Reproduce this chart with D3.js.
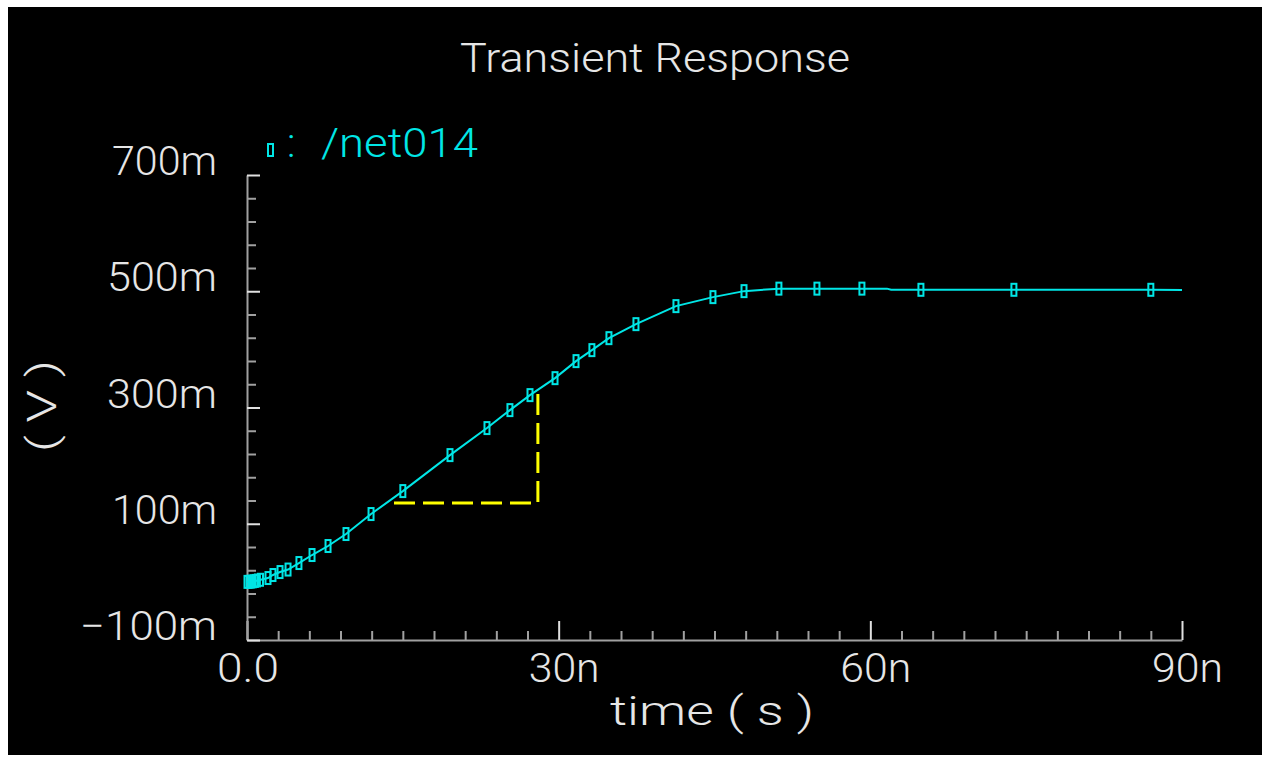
<!DOCTYPE html>
<html><head><meta charset="utf-8">
<script src="https://cdn.jsdelivr.net/npm/d3@7"></script>
<style>html,body{margin:0;padding:0;background:#fff;overflow:hidden}</style>
</head><body><svg id="c" width="1270" height="763"></svg>
<script>
// ---- data (time in ns, voltage in mV) ----
const timeNs = [0, 0.2, 0.4, 0.6, 0.8, 1.0, 1.3, 2.02, 2.5, 3.18, 3.95, 5.0, 6.26, 7.8, 9.53, 11.94, 15.0, 19.54, 23.1, 25.31, 27.24, 29.65, 31.67, 33.2, 34.84, 37.44, 41.29, 44.85, 47.84, 51.2, 54.86, 59.19, 61.6, 62.0, 64.87, 73.82, 87.0, 90.0];
const voltMv = [0, 0.1, 0.4, 0.9, 1.6, 2.4, 3.6, 6.6, 11.8, 16.9, 21.2, 32.4, 46.2, 61.7, 82.3, 116.7, 156.2, 218.1, 264.6, 295.5, 321.3, 350.5, 379.8, 398.7, 419.3, 443.4, 474.4, 489.9, 500.2, 504.5, 504.5, 504.5, 504.5, 502.5, 502.5, 502.5, 502.5, 502.2];
const hasMarker = [1,1,1,1,1,1,1,1,1,1,1,1,1,1,1,1,1,1,1,1,1,1,1,1,1,1,1,1,1,1,1,1,0,0,1,1,1,0];
const xMajorTicks = [0, 30, 60, 90];
const xTickLabels = ["0.0", "30n", "60n", "90n"];
const yMajorTicks = [-100, 100, 300, 500, 700];
const yTickLabels = ["\u2212100m", "100m", "300m", "500m", "700m"];
const slopeTime = [14.15, 28.0, 28.0];
const slopeVolt = [135.6, 135.6, 326.5];
const chartTitle = "Transient Response";
const legendParts = [": ", "/net014"];
const xTitle = "time ( s )";
const yTitle = "( V )";

// ---- layout ----
const W = 1270, H = 763;
const FONT = "Roboto, 'DejaVu Sans', sans-serif";
const textColor = "#e6e6e6";
const cyan = "#00e6e6";
const axisColor = "#a0a0a0";

const svg = d3.select("#c");
svg.append("rect").attr("x", 0).attr("y", 0).attr("width", W).attr("height", H).attr("fill", "#fff");
svg.append("rect").attr("x", 8).attr("y", 7).attr("width", 1254).attr("height", 748).attr("fill", "#000");

const x = d3.scaleLinear().domain([0, 90]).range([247, 1182]);
const y = d3.scaleLinear().domain([-100, 700]).range([640, 175]);

// x axis (ticks pointing up)
const xTicks = d3.range(0, 90.001, 3);
const gx = svg.append("g").attr("transform", `translate(0,${y(-100)})`)
  .call(d3.axisTop(x).tickValues(xTicks).tickSizeOuter(0).tickFormat(""));
gx.select(".domain").attr("stroke", axisColor).attr("stroke-width", 2);
gx.selectAll(".tick line")
  .attr("stroke-width", 2)
  .attr("y2", d => xMajorTicks.includes(Math.round(d)) ? -19 : -9)
  .attr("stroke", d => xMajorTicks.includes(Math.round(d)) ? "#e0e0e0" : axisColor);

// y axis (ticks pointing right)
const yTicks = d3.range(-100, 700.001, 40);
const gy = svg.append("g").attr("transform", `translate(${x(0)},0)`)
  .call(d3.axisRight(y).tickValues(yTicks).tickSizeOuter(0).tickFormat(""));
gy.select(".domain").attr("stroke", axisColor).attr("stroke-width", 2);
gy.selectAll(".tick line")
  .attr("stroke-width", 2)
  .attr("x2", d => yMajorTicks.includes(Math.round(d)) ? 13 : 9)
  .attr("stroke", d => yMajorTicks.includes(Math.round(d)) ? "#e0e0e0" : axisColor);

// tick labels
const txtStyle = sel => sel.attr("font-family", FONT).attr("font-weight", 300)
  .attr("font-size", 40).attr("fill", textColor).attr("lengthAdjust", "spacingAndGlyphs");

svg.append("g").selectAll("text").data(xMajorTicks).join("text")
  .call(txtStyle)
  .attr("x", d => x(d) - 30).attr("y", 682)
  .attr("textLength", (d, i) => i === 0 ? 62 : 71)
  .text((d, i) => xTickLabels[i]);

svg.append("g").selectAll("text").data(yMajorTicks).join("text")
  .call(txtStyle)
  .attr("text-anchor", "end")
  .attr("x", 217).attr("y", d => y(d))
  .attr("textLength", (d, i) => i === 0 ? 137 : (yTickLabels[i][0] === "1" || yTickLabels[i][0] === "7" ? 105 : 110))
  .text((d, i) => yTickLabels[i]);

// titles
svg.append("text").call(txtStyle).attr("text-anchor", "middle")
  .attr("x", 655).attr("y", 72).attr("textLength", 390).text(chartTitle);
svg.append("text").call(txtStyle).attr("text-anchor", "middle")
  .attr("x", 712).attr("y", 725).attr("textLength", 204).text(xTitle);
svg.append("text").call(txtStyle).attr("text-anchor", "middle")
  .attr("transform", "translate(56,406) rotate(-90)").attr("textLength", 92).text(yTitle);

// legend
svg.append("rect").attr("x", 268).attr("y", 144).attr("width", 5).attr("height", 12)
  .attr("fill", "none").attr("stroke", cyan).attr("stroke-width", 2);
const leg = svg.append("text").attr("font-family", FONT).attr("font-weight", 300)
  .attr("font-size", 40).attr("fill", cyan).attr("y", 157);
leg.append("tspan").attr("x", 287).text(legendParts[0]);
leg.append("tspan").attr("x", 321).attr("textLength", 157)
  .attr("lengthAdjust", "spacingAndGlyphs").text(legendParts[1]);

// data
const pts = timeNs.map((t, i) => ({t, v: voltMv[i], m: hasMarker[i]}));
svg.append("path").datum(pts)
  .attr("fill", "none").attr("stroke", cyan).attr("stroke-width", 2)
  .attr("d", d3.line().x(d => x(d.t)).y(d => y(d.v)));
svg.append("g").selectAll("rect").data(pts.filter(d => d.m)).join("rect")
  .attr("x", d => x(d.t) - 2.5).attr("y", d => y(d.v) - 6)
  .attr("width", 5).attr("height", 12)
  .attr("fill", "none").attr("stroke", cyan).attr("stroke-width", 2);

// slope annotation
const slope = slopeTime.map((t, i) => ({t, v: slopeVolt[i]}));
svg.append("path").datum(slope)
  .attr("fill", "none").attr("stroke", "#ffff00").attr("stroke-width", 3)
  .attr("stroke-dasharray", "21,8")
  .attr("d", d3.line().x(d => x(d.t)).y(d => y(d.v)));
</script>
</body></html>
